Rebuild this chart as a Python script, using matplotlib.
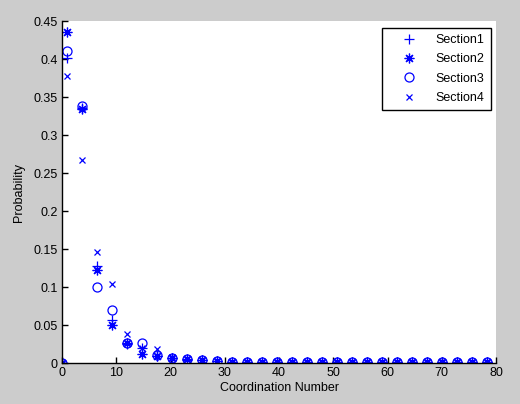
import matplotlib
matplotlib.use('Agg')
import matplotlib.pyplot as plt
from matplotlib.ticker import FormatStrFormatter

# --- data ---
coord_number = [0, 0.9, 3.7, 6.5, 9.2, 12.0, 14.7, 17.5, 20.3, 23.0,
                25.8, 28.6, 31.3, 34.1, 36.9, 39.6, 42.4, 45.2, 47.9, 50.7,
                53.5, 56.2, 59.0, 61.8, 64.5, 67.3, 70.1, 72.8, 75.6, 78.4]

section1 = [0, 0.401, 0.336, 0.127, 0.057, 0.025, 0.020, 0.009, 0.006, 0.004,
            0.004, 0.002, 0.0012, 0.0012, 0.001, 0.001, 0.001, 0.0008, 0.001, 0.0012,
            0.001, 0.001, 0.0012, 0.0008, 0.001, 0.001, 0.0012, 0.001, 0.001, 0.001]
section2 = [0, 0.435, 0.334, 0.123, 0.050, 0.026, 0.012, 0.009, 0.007, 0.005,
            0.004, 0.002, 0.0012, 0.001, 0.001, 0.001, 0.001, 0.001, 0.001, 0.0012,
            0.001, 0.001, 0.001, 0.0008, 0.001, 0.001, 0.0012, 0.001, 0.001, 0.001]
section3 = [0, 0.411, 0.338, 0.100, 0.070, 0.026, 0.026, 0.010, 0.007, 0.005,
            0.004, 0.002, 0.0012, 0.001, 0.001, 0.001, 0.001, 0.0008, 0.001, 0.001,
            0.001, 0.001, 0.0012, 0.0008, 0.001, 0.001, 0.001, 0.001, 0.001, 0.001]
section4 = [0, 0.377, 0.267, 0.146, 0.104, 0.038, 0.020, 0.018, 0.008, 0.005,
            0.004, 0.002, 0.001, 0.001, 0.001, 0.001, 0.001, 0.0008, 0.001, 0.001,
            0.001, 0.001, 0.001, 0.0008, 0.001, 0.001, 0.001, 0.001, 0.001, 0.001]

labels = ['Section1', 'Section2', 'Section3', 'Section4']
x_ticks = [0, 10, 20, 30, 40, 50, 60, 70, 80]
y_ticks = [0, 0.05, 0.1, 0.15, 0.2, 0.25, 0.3, 0.35, 0.4, 0.45]

plt.rcParams['font.family'] = ['Liberation Sans', 'DejaVu Sans']
plt.rcParams['font.size'] = 9

fig = plt.figure(figsize=(5.2, 4.04), dpi=100, facecolor='#cccccc')
ax = fig.add_axes([62 / 520, 41 / 404, 434 / 520, 342 / 404])
ax.set_facecolor('white')

# matlab-like marker styles
blue = (0, 0, 1)
ax.plot(coord_number, section1, linestyle='none', marker='+', markersize=7,
        markeredgewidth=0.9, color=blue, label=labels[0])
ax.plot(coord_number, section2, linestyle='none', marker=(8, 2, 0), markersize=7,
        markeredgewidth=0.9, color=blue, label=labels[1])
ax.plot(coord_number, section3, linestyle='none', marker='o', markersize=6.5,
        markeredgewidth=0.9, markerfacecolor='none', color=blue, label=labels[2])
ax.plot(coord_number, section4, linestyle='none', marker='x', markersize=4.5,
        markeredgewidth=0.9, color=blue, label=labels[3])

ax.set_xlim(0, 80)
ax.set_ylim(0, 0.45)
ax.set_xticks(x_ticks)
ax.set_yticks(y_ticks)
ax.yaxis.set_major_formatter(FormatStrFormatter('%g'))

for side in ['top', 'right']:
    ax.spines[side].set_visible(False)
for side in ['left', 'bottom']:
    ax.spines[side].set_linewidth(1.0)
    ax.spines[side].set_color('black')

ax.tick_params(direction='in', length=4, width=1.0, pad=3, labelsize=9,
               colors='black')

ax.set_xlabel('Coordination Number', fontsize=9, labelpad=2)
ax.set_ylabel('Probability', fontsize=9, labelpad=6)

leg = ax.legend(loc='upper right', bbox_to_anchor=(429 / 434, 335 / 342),
                borderaxespad=0, fancybox=False, framealpha=1, edgecolor='black',
                handlelength=3.3, handletextpad=0.5, labelspacing=0.58,
                borderpad=0.5, fontsize=9)
leg.get_frame().set_linewidth(1.0)

fig.savefig('out.png', dpi=100, facecolor=fig.get_facecolor())
